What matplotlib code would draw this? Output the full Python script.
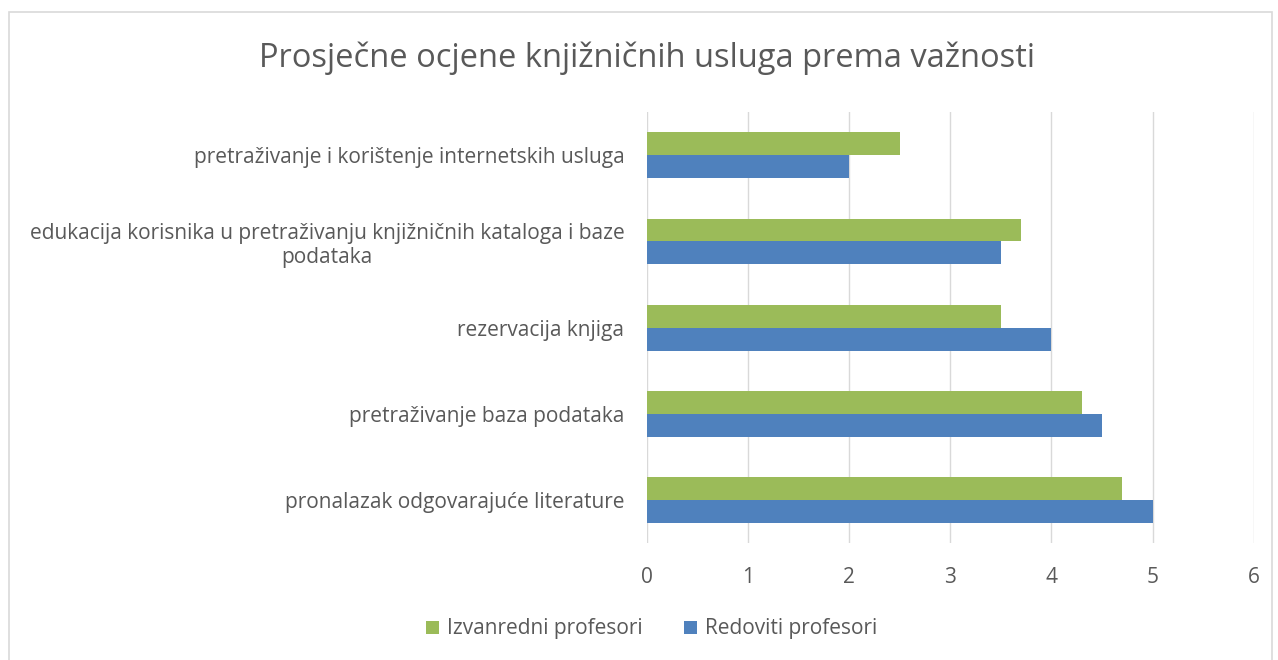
import numpy as np
import matplotlib.pyplot as plt
from matplotlib.patches import Rectangle

# data (bottom to top as drawn)
categories = [
    "pronalazak odgovarajuće literature",
    "pretraživanje baza podataka",
    "rezervacija knjiga",
    "edukacija korisnika u pretraživanju knjižničnih kataloga i baze\npodataka",
    "pretraživanje i korištenje internetskih usluga",
]
izvanredni = [4.7, 4.3, 3.5, 3.7, 2.5]
redoviti = [5.0, 4.5, 4.0, 3.5, 2.0]

green = "#9bbb59"
blue = "#4f81bd"
text_col = "#595959"

plt.rcParams['font.family'] = ['Open Sans', 'DejaVu Sans']

fig = plt.figure(figsize=(12.78, 6.6), dpi=100)
ax = fig.add_axes([0.506, 0.177, 0.475, 0.653])

y = np.arange(len(categories))
h = 0.266
ax.barh(y + h / 2, izvanredni, height=h, color=green, label="Izvanredni profesori")
ax.barh(y - h / 2, redoviti, height=h, color=blue, label="Redoviti profesori")

ax.set_xlim(0, 6)
ax.set_ylim(-0.5, len(categories) - 0.5)
ax.set_xticks(range(7))
ax.set_yticks(y)
ax.set_yticklabels(categories, multialignment='center')
ax.tick_params(axis='both', length=0, labelsize=15, colors=text_col)
ax.tick_params(axis='x', pad=17)
ax.tick_params(axis='y', pad=16)
ax.grid(axis='x', color="#d9d9d9", linewidth=1)
ax.set_axisbelow(True)
for s in ax.spines.values():
    s.set_visible(False)

fig.text(0.506, 0.912, "Prosječne ocjene knjižničnih usluga prema važnosti",
         ha='center', va='center', fontsize=23.5, color=text_col)

fig.legend(loc='center', bbox_to_anchor=(0.51, 0.047), ncol=2, frameon=False,
           fontsize=15, labelcolor=text_col, handlelength=0.6, handleheight=0.6,
           handletextpad=0.4, columnspacing=2.0)

# chart border
fig.patches.append(Rectangle((9 / 1278, -0.01), 1263 / 1278, 1 - 12 / 660 + 0.01,
                             transform=fig.transFigure, fill=False,
                             edgecolor="#d9d9d9", linewidth=1.2))

fig.savefig("out.png", dpi=100)
